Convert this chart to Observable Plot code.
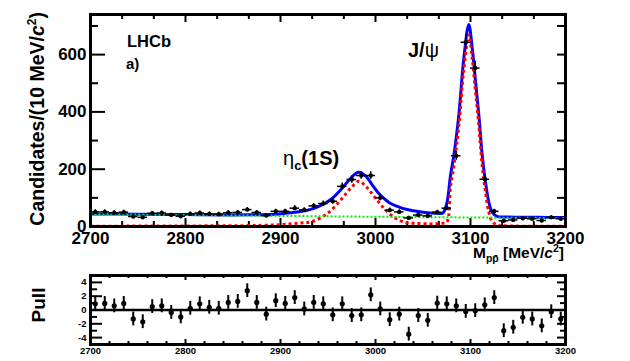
<!DOCTYPE html>
<html><head><meta charset="utf-8">
<script src="https://cdn.jsdelivr.net/npm/d3@7"></script>
<script src="https://cdn.jsdelivr.net/npm/@observablehq/plot@0.6"></script>
<style>
body{margin:0;background:#fff;}
#chart{width:630px;height:361px;position:relative;background:#fff;}
#chart svg{display:block;}
</style></head><body><div id="chart"></div>
<script>
// ---- data ----
const binCenters = [2705,2715,2725,2735,2745,2755,2765,2775,2785,2795,2805,2815,2825,2835,2845,2855,2865,2875,2885,2895,2905,2915,2925,2935,2945,2955,2965,2975,2985,2995,3005,3015,3025,3035,3045,3055,3065,3075,3085,3095,3105,3115,3125,3135,3145,3155,3165,3175,3185,3195];
const counts = [51,51,48,50,35,32,46,47,40,36,44,47,44,43,48,49,59,49,38,53,53,64,58,72,80,88,140,164,178,178,100,57,51,30,40,37,50,64,247,643,553,165,53,20,23,29,27,21,32,27];
const pulls = [0.9,0.95,0.6,0.95,-1.3,-1.7,0.5,0.6,-0.35,-1.0,0.25,0.9,0.4,0.25,1.1,1.25,2.8,1.1,-0.6,1.35,0.95,1.8,0.15,1.1,0.9,-0.7,0.9,-0.8,-0.7,2.2,0.15,-1.4,-0.6,-3.5,-0.8,-1.5,1.0,0.9,0.6,-0.2,-0.1,0.75,1.8,-3.0,-2.5,-1.05,-1.3,-2.3,-0.25,-1.3];

const totalFitX = [2700,2750,2800,2850,2870,2885,2898,2910,2926,2935,2944,2954,2965,2974,2982,2990,2996,3003,3010,3015,3023,3032,3040,3050,3058,3066,3071,3075,3079,3082.5,3087.7,3093,3098.2,3101.8,3105.3,3108.8,3112.3,3115.8,3119.3,3122.8,3128,3140,3170,3200];
const totalFitY = [44,43,41.5,40.5,41,42,44,48,55,63,76,97,134,169,189,175,148,117,95,82,70,60,55,50,47,46,47,80,179,249,389,588,705,623,506,389,249,155,85,50,35,33,32,31];

const signalFitX = [2700,2800,2860,2898,2920,2933,2950,2965,2975.5,2982.5,2991,3000,3010.5,3021,3031.6,3040,3050,3060,3070,3075,3079,3082.5,3087.7,3093,3098.2,3101.8,3105.3,3108.8,3112.3,3115.8,3119.3,3122.8,3128,3140,3200];
const signalFitY = [1,2,3,6,12,17,47,99,140,158,136,99,58,29,14,11,10,9,11,15,140,212,352,550,668,585,470,352,212,120,50,18,5,2,1];

const bkgFitX = [2700,2800,2900,3000,3100,3200];
const bkgFitY = [43,40,37,34,31.5,29.5];

const xTicks = [2700,2800,2900,3000,3100,3200];
const yTicksMain = [0,200,400,600];
const yTicksPull = [-4,-2,0,2,4];

// ---- helpers ----
const FONT = "'Liberation Sans', Arial, Helvetica, sans-serif";
const W = 630, ML = 90, MR = 65;
const FW = W - ML - MR;
const pts = (xs, ys) => xs.map((x, i) => ({x, y: ys[i]}));
const data = binCenters.map((m, i) => ({m, n: counts[i], p: pulls[i]}));
const xMinorMain = d3.range(2700, 3200.1, 100 / 3).filter(v => !xTicks.some(t => Math.abs(t - v) < 1));
const xMinorPull = d3.range(2700, 3200.1, 20).filter(v => !xTicks.includes(v));
const plain = d => String(d);

// ---- main panel ----
const MH = 265, MT = 14, MB = 39, FH = MH - MT - MB;
const main = Plot.plot({
  width: W, height: MH,
  marginLeft: ML, marginRight: MR, marginTop: MT, marginBottom: MB,
  x: {domain: [2700, 3200]},
  y: {domain: [0, 740]},
  style: {fontFamily: FONT, fontWeight: "bold", background: "white", overflow: "visible", color: "black"},
  marks: [
    Plot.tickY(yTicksMain, {y: d => d, insetRight: FW - 15, strokeWidth: 2}),
    Plot.tickY([100, 300, 500, 700], {y: d => d, insetRight: FW - 8, strokeWidth: 2}),
    Plot.tickY(d3.range(100, 800, 100), {y: d => d, insetLeft: FW - 8, strokeWidth: 2}),
    Plot.tickX(xTicks, {x: d => d, insetTop: FH - 8, strokeWidth: 2}),
    Plot.tickX(xMinorMain, {x: d => d, insetTop: FH - 5, strokeWidth: 2}),
    Plot.tickX(xTicks, {x: d => d, insetBottom: FH - 8, strokeWidth: 2}),
    Plot.tickX(xMinorMain, {x: d => d, insetBottom: FH - 5, strokeWidth: 2}),
    Plot.line(pts(totalFitX, totalFitY), {x: "x", y: "y", curve: "catmull-rom", stroke: "#0000ff", strokeWidth: 3}),
    Plot.line(pts(signalFitX, signalFitY), {x: "x", y: "y", curve: "catmull-rom", stroke: "#ff0000", strokeWidth: 3, strokeDasharray: "3,3", strokeLinecap: "butt"}),
    Plot.line(pts(bkgFitX, bkgFitY), {x: "x", y: "y", curve: "catmull-rom", stroke: "#00ee00", strokeWidth: 2, strokeDasharray: "2,2", strokeLinecap: "butt"}),
    Plot.ruleX(data, {x: "m", y1: d => d.n - Math.sqrt(d.n), y2: d => d.n + Math.sqrt(d.n), strokeWidth: 1.5}),
    Plot.ruleY(data, {y: "n", x1: d => d.m - 5, x2: d => d.m + 5, strokeWidth: 1.5}),
    Plot.dot(data, {x: "m", y: "n", r: 2.2, fill: "black", stroke: "none"}),
    Plot.frame({strokeWidth: 3}),
    Plot.axisX(xTicks, {tickSize: 0, tickPadding: 5, fontSize: 17, fontWeight: "bold", label: null, tickFormat: plain}),
    Plot.axisY(yTicksMain, {tickSize: 0, tickPadding: 4, fontSize: 17, fontWeight: "bold", label: null, tickFormat: plain})
  ]
});

// ---- pull panel ----
const PH = 96, PT = 10, PB = 17, PFH = PH - PT - PB;
const pull = Plot.plot({
  width: W, height: PH,
  marginLeft: ML, marginRight: MR, marginTop: PT, marginBottom: PB,
  x: {domain: [2700, 3200]},
  y: {domain: [-5, 5]},
  style: {fontFamily: FONT, fontWeight: "bold", background: "white", overflow: "visible", color: "black"},
  marks: [
    Plot.tickY(yTicksPull, {y: d => d, insetRight: FW - 12, strokeWidth: 2}),
    Plot.tickY([-3, -1, 1, 3], {y: d => d, insetRight: FW - 7, strokeWidth: 2}),
    Plot.tickY(yTicksPull, {y: d => d, insetLeft: FW - 8, strokeWidth: 2}),
    Plot.tickY([-3, -1, 1, 3], {y: d => d, insetLeft: FW - 5, strokeWidth: 2}),
    Plot.tickX(xTicks, {x: d => d, insetTop: PFH - 5, strokeWidth: 2}),
    Plot.tickX(xMinorPull, {x: d => d, insetTop: PFH - 3, strokeWidth: 2}),
    Plot.tickX(xTicks, {x: d => d, insetBottom: PFH - 5, strokeWidth: 2}),
    Plot.tickX(xMinorPull, {x: d => d, insetBottom: PFH - 3, strokeWidth: 2}),
    Plot.ruleY([0], {strokeWidth: 2.5}),
    Plot.ruleX(data, {x: "m", y1: d => d.p - 1, y2: d => d.p + 1, strokeWidth: 2}),
    Plot.dot(data, {x: "m", y: "p", r: 2.6, fill: "black", stroke: "none"}),
    Plot.frame({strokeWidth: 3}),
    Plot.axisX(xTicks, {tickSize: 0, tickPadding: 3, fontSize: 9.5, fontWeight: "bold", label: null, tickFormat: plain}),
    Plot.axisY(yTicksPull, {tickSize: 0, tickPadding: 4, fontSize: 9.5, fontWeight: "bold", label: null, tickFormat: plain})
  ]
});

const chart = document.getElementById("chart");
chart.append(main, pull);

// ---- mixed-style text labels ----
function addText(svg, {x, y, size, anchor = "start", rotate = 0, parts}) {
  const t = d3.select(svg).append("text")
    .attr("transform", `translate(${x},${y}) rotate(${rotate})`)
    .attr("text-anchor", anchor)
    .attr("font-family", FONT)
    .attr("font-size", size)
    .attr("font-weight", "bold")
    .attr("fill", "black");
  for (const p of parts) {
    const s = t.append("tspan").text(p.t);
    if (p.size) s.attr("font-size", p.size);
    if (p.dy) s.attr("dy", p.dy);
    if (p.italic) s.attr("font-style", "italic");
    if (p.normal) s.attr("font-weight", "normal");
  }
}
addText(main, {x: 44, y: 12, size: 19.5, anchor: "end", rotate: -90, parts: [
  {t: "Candidates/(10 MeV/"}, {t: "c", italic: true}, {t: "2", size: 12, dy: -8}, {t: ")", dy: 8}
]});
addText(main, {x: 564, y: 258, size: 15.5, anchor: "end", parts: [
  {t: "M"}, {t: "pp\u0304", size: 10.5, dy: 4}, {t: " [MeV/", dy: -4}, {t: "c", italic: true}, {t: "2", size: 10.5, dy: -6}, {t: "]", dy: 6}
]});
addText(main, {x: 127, y: 47, size: 16.5, parts: [{t: "LHCb"}]});
addText(main, {x: 126, y: 69, size: 15, parts: [{t: "a)"}]});
addText(main, {x: 408, y: 57, size: 20, parts: [{t: "J/"}, {t: "\u03c8", normal: true}]});
addText(main, {x: 283, y: 165, size: 20, parts: [
  {t: "\u03b7", normal: true}, {t: "c", size: 13, dy: 5}, {t: "(1S)", dy: -5}
]});
addText(pull, {x: 45, y: 305 - 265, size: 19, anchor: "middle", rotate: -90, parts: [{t: "Pull"}]});
</script></body></html>
